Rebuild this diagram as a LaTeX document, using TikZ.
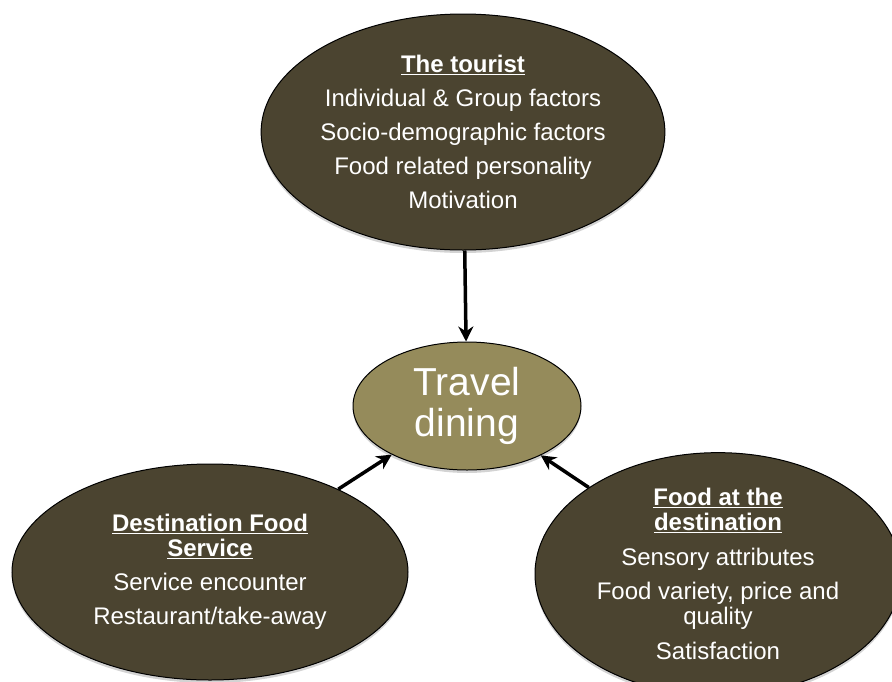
\documentclass[tikz,border=0pt]{standalone}
\usepackage{fontspec}
\setmainfont{Liberation Sans}
\usetikzlibrary{shapes.geometric,arrows.meta,shadows}

\definecolor{factorbrown}{HTML}{4B4430}
\definecolor{dininggold}{HTML}{958B5B}

\tikzset{
  factor/.style={ellipse, draw=black, line width=1pt, fill=factorbrown, text=white,
    align=center, inner sep=0pt, font=\fontsize{24}{25}\selectfont,
    drop shadow={shadow xshift=0pt, shadow yshift=-3pt, opacity=0.35}},
  dining/.style={factor, fill=dininggold, font=\fontsize{39}{41}\selectfont},
  link/.style={-{Stealth[length=15pt,width=15pt]}, line width=3.5pt}
}

\begin{document}
\begin{tikzpicture}[x=1pt, y=-1pt]
        \useasboundingbox (0,0) rectangle (892,681);
        % Nodes
        \node[factor, minimum width=396pt, minimum height=236pt] (tourist) at (463,132)
            {\textbf{\underline{The tourist}}\\[9pt]
             Individual \& Group factors\\[9pt]
             Socio-demographic factors\\[9pt]
             Food related personality\\[9pt]
             Motivation};
        \node[dining, minimum width=228pt, minimum height=128pt] (travel) at (467,406)
            {Travel\\dining};
        \node[factor, minimum width=396pt, minimum height=216pt] (service) at (210,572)
            {\textbf{\underline{Destination Food}}\\\textbf{\underline{Service}}\\[9pt]
             Service encounter\\[9pt]
             Restaurant/take-away};
        \node[factor, minimum width=366pt, minimum height=224pt] (food) at (718,574)
            {\textbf{\underline{Food at the}}\\\textbf{\underline{destination}}\\[10pt]
             Sensory attributes\\[9pt]
             Food variety, price and\\quality\\[10pt]
             Satisfaction};

        % Edges
        \draw[link] (tourist) -- (travel);
        \draw[link] (service) -- (travel);
        \draw[link] (food) -- (travel);
    \end{tikzpicture}
\end{document}
